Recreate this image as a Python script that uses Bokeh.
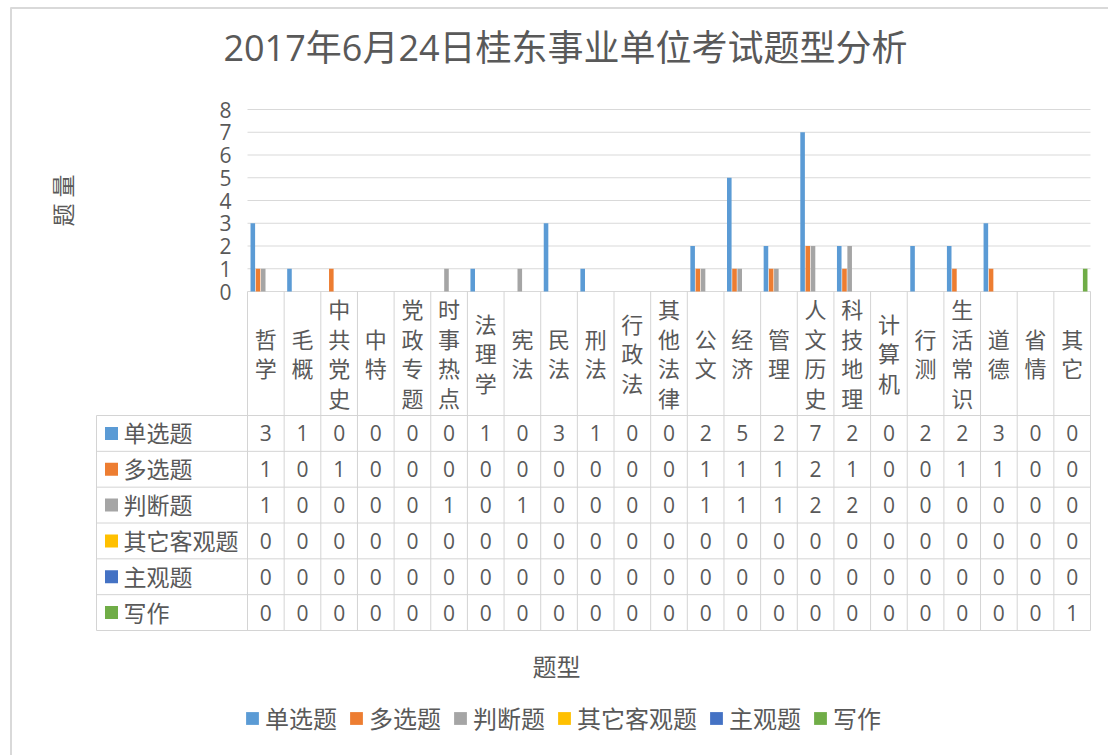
import math
from bokeh.plotting import figure
from bokeh.models import Range1d, ColumnDataSource, Legend, LegendItem
from bokeh.core.properties import value
from bokeh.embed import file_html
from bokeh.resources import INLINE

# ---------------- data ----------------
title_text = "2017年6月24日桂东事业单位考试题型分析"
y_axis_title = "题 量"
x_axis_title = "题型"
categories = ["哲学", "毛概", "中共党史", "中特", "党政专题", "时事热点", "法理学", "宪法",
              "民法", "刑法", "行政法", "其他法律", "公文", "经济", "管理", "人文历史",
              "科技地理", "计算机", "行测", "生活常识", "道德", "省情", "其它"]
series_names = ["单选题", "多选题", "判断题", "其它客观题", "主观题", "写作"]
single_choice = [3, 1, 0, 0, 0, 0, 1, 0, 3, 1, 0, 0, 2, 5, 2, 7, 2, 0, 2, 2, 3, 0, 0]
multi_choice = [1, 0, 1, 0, 0, 0, 0, 0, 0, 0, 0, 0, 1, 1, 1, 2, 1, 0, 0, 1, 1, 0, 0]
true_false = [1, 0, 0, 0, 0, 1, 0, 1, 0, 0, 0, 0, 1, 1, 1, 2, 2, 0, 0, 0, 0, 0, 0]
other_objective = [0, 0, 0, 0, 0, 0, 0, 0, 0, 0, 0, 0, 0, 0, 0, 0, 0, 0, 0, 0, 0, 0, 0]
subjective = [0, 0, 0, 0, 0, 0, 0, 0, 0, 0, 0, 0, 0, 0, 0, 0, 0, 0, 0, 0, 0, 0, 0]
writing = [0, 0, 0, 0, 0, 0, 0, 0, 0, 0, 0, 0, 0, 0, 0, 0, 0, 0, 0, 0, 0, 0, 1]
series_colors = ["#5B9BD5", "#ED7D31", "#A5A5A5", "#FFC000", "#4472C4", "#70AD47"]
y_ticks = [0, 1, 2, 3, 4, 5, 6, 7, 8]

series_values = [single_choice, multi_choice, true_false, other_objective, subjective, writing]

# ---------------- styling / geometry (canvas pixels) ----------------
FONT = "Open Sans, Noto Sans CJK SC"
TEXT_COLOR = "#595959"
GRID_COLOR = "#d9d9d9"
TABLE_LINE = "#d4d4d4"

W, H = 1108, 755
PLOT_LEFT, PLOT_RIGHT = 247, 1090
PLOT_TOP, PLOT_BOTTOM = 109, 291
TABLE_LEFT = 96
BODY_TOP, BODY_BOTTOM = 415, 630

n = len(categories)
m = len(series_names)
COL_W = (PLOT_RIGHT - PLOT_LEFT) / n
PX_PER_UNIT = (PLOT_BOTTOM - PLOT_TOP) / y_ticks[-1]
ROW_PX = (BODY_BOTTOM - BODY_TOP) / m
SLOT = 0.142
BAR_W = 0.125


def x_at(px):
    return (px - PLOT_LEFT) / COL_W


def row_at(py):
    return (py - BODY_TOP) / ROW_PX


def cnt_at(py):
    return (PLOT_BOTTOM - py) / PX_PER_UNIT


p = figure(width=W, height=H,
           x_range=Range1d(x_at(0), x_at(W)),
           y_range=Range1d(row_at(H), row_at(0)),
           min_border=0, min_border_left=0, min_border_right=0,
           min_border_top=0, min_border_bottom=0,
           x_axis_location=None, y_axis_location=None,
           output_backend="svg", toolbar_location=None,
           background_fill_color="white", border_fill_color="white",
           outline_line_color=None)
p.extra_y_ranges = {"cnt": Range1d(cnt_at(H), cnt_at(0))}
p.grid.visible = False

# chart-area border (left and top edges visible)
p.segment(x0=[x_at(10.5), x_at(10)], y0=[row_at(7), row_at(7.5)],
          x1=[x_at(10.5), x_at(W)], y1=[row_at(H), row_at(7.5)],
          line_color=GRID_COLOR, line_width=2)

# ---------------- title ----------------
p.text(x=[x_at(565)], y=[row_at(47)], text=[title_text],
       text_align="center", text_baseline="middle",
       text_font=value(FONT), text_font_size="36px", text_color=TEXT_COLOR)

# ---------------- gridlines, tick labels, y title ----------------
p.segment(x0=[0] * len(y_ticks), x1=[n] * len(y_ticks), y0=y_ticks, y1=y_ticks,
          y_range_name="cnt", line_color=GRID_COLOR, line_width=1)
p.text(x=[x_at(PLOT_LEFT - 16)] * len(y_ticks), y=y_ticks, text=[str(t) for t in y_ticks],
       y_range_name="cnt", text_align="right", text_baseline="middle",
       text_font=value(FONT), text_font_size="21px", text_color=TEXT_COLOR)
p.text(x=[x_at(62)], y=[y_ticks[-1] / 2], text=[y_axis_title], angle=math.pi / 2,
       y_range_name="cnt", text_align="center", text_baseline="middle",
       text_font=value(FONT), text_font_size="23px", text_color=TEXT_COLOR)

# ---------------- bars ----------------
for k, (vals, color) in enumerate(zip(series_values, series_colors)):
    off = (k - (m - 1) / 2) * SLOT
    src = ColumnDataSource(dict(x=[i + 0.5 + off for i in range(n)], top=vals))
    p.vbar(x="x", top="top", bottom=0, width=BAR_W, source=src, y_range_name="cnt",
           fill_color=color, line_color=None)

# ---------------- data table ----------------
LW = (PLOT_LEFT - TABLE_LEFT) / COL_W
HU = (BODY_TOP - PLOT_BOTTOM) / ROW_PX
x0s, y0s, x1s, y1s = [], [], [], []
for r in range(m + 1):
    x0s.append(-LW); x1s.append(n); y0s.append(r); y1s.append(r)
for i in range(n + 1):
    x0s.append(i); x1s.append(i); y0s.append(-HU); y1s.append(m)
x0s.append(-LW); x1s.append(-LW); y0s.append(0); y1s.append(m)
p.segment(x0=x0s, y0=y0s, x1=x1s, y1=y1s, line_color=TABLE_LINE, line_width=1)

# column headers (vertical stacked characters)
p.text(x=[i + 0.5 for i in range(n)], y=[-HU / 2] * n,
       text=["\n".join(c) for c in categories],
       text_align="center", text_baseline="middle", text_line_height=0.98,
       text_font=value(FONT), text_font_size="22px", text_color=TEXT_COLOR)

# values
vx, vy, vt = [], [], []
for r, vals in enumerate(series_values):
    for i, v in enumerate(vals):
        vx.append(i + 0.5); vy.append(r + 0.5); vt.append(str(v))
p.text(x=vx, y=vy, text=vt, text_align="center", text_baseline="middle",
       text_font=value(FONT), text_font_size="21px", text_color=TEXT_COLOR)

# row labels with colour keys
sq_src = ColumnDataSource(dict(x=[x_at(TABLE_LEFT + 15)] * m, y=[r + 0.5 for r in range(m)],
                               color=series_colors))
sq = p.rect(x="x", y="y", width=13, height=13, width_units="screen", height_units="screen",
            fill_color="color", line_color=None, source=sq_src)
p.text(x=[x_at(TABLE_LEFT + 27)] * m, y=[r + 0.5 for r in range(m)], text=series_names,
       text_align="left", text_baseline="middle",
       text_font=value(FONT), text_font_size="23px", text_color=TEXT_COLOR)

# x axis title
p.text(x=[x_at(556)], y=[row_at(666)], text=[x_axis_title],
       text_align="center", text_baseline="middle",
       text_font=value(FONT), text_font_size="24px", text_color=TEXT_COLOR)

# legend
legend = Legend(items=[LegendItem(label=name, renderers=[sq], index=k)
                       for k, name in enumerate(series_names)],
                location=(244, 20), orientation="horizontal",
                border_line_color=None, background_fill_alpha=0,
                padding=0, margin=0, spacing=11, label_standoff=5,
                glyph_width=16, glyph_height=16,
                label_text_font=FONT, label_text_font_size="24px", label_text_color=TEXT_COLOR)
p.add_layout(legend)

open("out.html", "w").write(file_html(p, INLINE))
